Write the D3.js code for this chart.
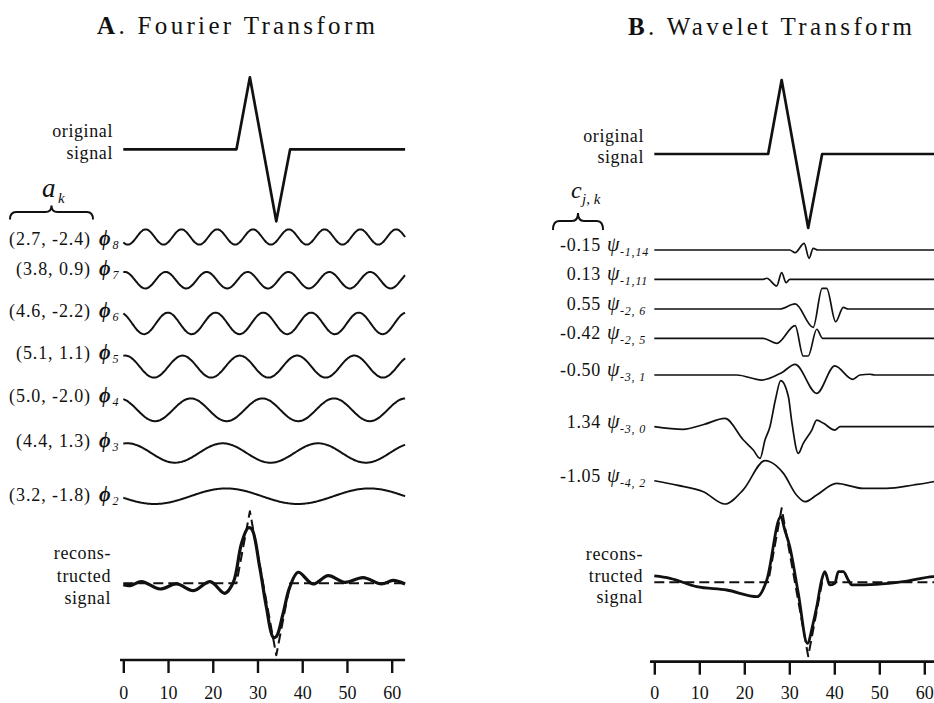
<!DOCTYPE html>
<html>
<head>
<meta charset="utf-8">
<script src="https://cdn.jsdelivr.net/npm/d3@7"></script>
<style>
  body { margin: 0; background: #fff; }
  svg { display: block; }
  text { font-family: "Liberation Serif", "Times New Roman", serif; fill: #111; }
</style>
</head>
<body>
<svg id="chart" width="934" height="703"></svg>
<script>
// ---------- data ----------
const xTicks = [0, 10, 20, 30, 40, 50, 60];

// original signal (sample index, amplitude)
const signalX = [0, 25.3, 28.3, 34.2, 37.3, 63];
const signalY = [0, 0, 1, -1, 0, 0];

// Fourier components phi_k with coefficient pairs a_k
const fourierK = [8, 7, 6, 5, 4, 3, 2];
const fourierA = [2.7, 3.8, 4.6, 5.1, 5.0, 4.4, 3.2];
const fourierB = [-2.4, 0.9, -2.2, 1.1, -2.0, 1.3, -1.8];
const fourierCrest = [5.0, 0.35, -0.7, 0.45, -0.9, 0.9, 23.0]; // sample index of a crest

// reconstruction from the Fourier components
const fourierRecon = [
  [0, -0.019], [1.5, -0.032], [4.1, 0.023], [8.2, -0.079], [11.9, -0.009],
  [15.7, -0.102], [19.4, 0.023], [22.7, -0.139], [24.6, 0.014], [26.4, 0.546],
  [27.9, 0.769], [28.7, 0.755], [30.5, 0.222], [32.0, -0.333], [33.5, -0.75],
  [34.2, -0.741], [35.7, -0.426], [37.2, -0.056], [39.1, 0.153], [42.4, -0.009],
  [45.8, 0.106], [49.5, 0.014], [53.6, 0.08], [57.7, -0.009], [60.3, 0.04], [63, -0.009]
];

// wavelet coefficients c_{j,k} and their indices
const waveletCoef = [-0.15, 0.13, 0.55, -0.42, -0.50, 1.34, -1.05];
const waveletIndex = ["-1,14", "-1,11", "-2, 6", "-2, 5", "-3, 1", "-3, 0", "-4, 2"];

// scaled wavelets c_{j,k} * psi_{j,k}
const psiM1K14 = [[0, 0], [30.1, 0], [31.3, -0.036], [33.3, 0.09], [34.4, -0.112], [35.3, 0.023], [36.4, 0], [63, 0]];
const psiM1K11 = [[0, 0], [24.2, 0], [25.0, 0.014], [27.2, -0.09], [28.3, 0.09], [29.3, -0.045], [30.1, 0], [63, 0]];
const psiM2K6 = [[0, 0], [27.9, 0], [31.3, 0.068], [35.3, -0.247], [37.3, 0.28], [38.3, 0.28], [40.3, -0.172], [42.0, 0.023], [43.1, 0], [63, 0]];
const psiM2K5 = [[0, 0], [24.2, 0], [27.2, -0.068], [31.3, 0.172], [33.1, -0.239], [34.2, -0.239], [36.1, 0.122], [37.4, 0], [63, 0]];
const psiM3K1 = [[0, 0], [18.3, 0], [23.9, -0.068], [28.3, 0.031], [31.3, 0.144], [36.1, -0.248], [40.1, 0.122], [44.1, -0.059], [45.7, 0], [47.9, 0.01], [49.0, 0], [63, 0]];
const psiM3K0 = [[0, 0], [6.4, -0.036], [11.0, 0.03], [15.7, 0.112], [19.8, -0.18], [22.0, -0.315], [23.5, -0.428], [24.6, -0.18], [25.7, 0], [26.9, 0.36], [28.1, 0.622], [29.8, 0.405], [30.5, 0.09], [32.0, -0.36], [33.1, -0.225], [35.0, -0.045], [36.1, 0.09], [37.6, 0.045], [40.1, -0.045], [41.3, 0], [63, 0]];
const psiM4K2 = [[0, 0], [5.0, -0.06], [10.9, -0.149], [15.7, -0.315], [19.8, -0.12], [24.6, 0.27], [25.7, 0.257], [28.7, 0.099], [31.6, -0.193], [33.5, -0.284], [36.1, -0.193], [40.5, -0.036], [46.4, -0.104], [51.6, -0.104], [57.6, -0.058], [62.0, -0.014], [63, 0]];
const waveletCurves = [psiM1K14, psiM1K11, psiM2K6, psiM2K5, psiM3K1, psiM3K0, psiM4K2];

// reconstruction from the wavelet coefficients
const waveletRecon = [
  [0, 0.086], [3.5, 0.054], [9.4, -0.059], [16.1, -0.104], [22.9, -0.194], [25.0, 0.032],
  [28.1, 0.887], [29.0, 0.707], [30.1, 0.482], [32.0, -0.149], [34.0, -0.824], [35.3, -0.554],
  [36.1, -0.329], [37.2, 0.032], [37.9, 0.144], [39.0, -0.036], [40.1, -0.014], [40.9, 0.144],
  [42.0, 0.144], [43.1, 0.032], [43.9, -0.036], [49.4, -0.027], [55.3, 0.009], [62.0, 0.077], [63, 0.08]
];

// ---------- drawing ----------
const svg = d3.select("#chart");
const INK = "#111";
const COEF_TO_SIGNAL = 1 / 34;   // coefficient units -> signal amplitude units

const rowScale = (base, unit) => d3.scaleLinear().domain([-1, 1]).range([base + unit, base - unit]);
const signal = signalX.map((x, i) => [x, signalY[i]]);

function pathLine(g, x, y, data, width, curve, dash) {
  const gen = d3.line().x(d => x(d[0])).y(d => y(d[1])).curve(curve || d3.curveLinear);
  const p = g.append("path").attr("d", gen(data)).attr("fill", "none")
    .attr("stroke", INK).attr("stroke-width", width)
    .attr("stroke-linejoin", "round").attr("stroke-linecap", "butt");
  if (dash) p.attr("stroke-dasharray", dash);
  return p;
}

function brace(g, x0, x1, yEnd, yMid, yTip) {
  const xm = (x0 + x1) / 2, r = 6;
  const d = `M${x0},${yEnd} Q${x0},${yMid} ${x0 + r},${yMid} L${xm - r},${yMid} Q${xm},${yMid} ${xm},${yTip}` +
            ` Q${xm},${yMid} ${xm + r},${yMid} L${x1 - r},${yMid} Q${x1},${yMid} ${x1},${yEnd}`;
  g.append("path").attr("d", d).attr("fill", "none").attr("stroke", INK).attr("stroke-width", 2);
}

function multiLabel(g, xRight, ys, lines) {
  lines.forEach((t, i) => g.append("text").attr("x", xRight).attr("y", ys[i])
    .attr("text-anchor", "end").attr("font-size", 18).attr("letter-spacing", "0.6px").text(t));
}

function drawAxis(g, x, yAxis, lineStart, labelBaseline) {
  const ax = d3.axisBottom(x).tickValues(xTicks).tickSize(13).tickSizeOuter(0).tickFormat(d => String(d));
  const a = g.append("g").attr("transform", `translate(0,${yAxis})`).call(ax);
  a.select(".domain").remove();
  a.attr("font-family", null);
  a.selectAll(".tick line").attr("stroke", INK).attr("stroke-width", 2.4);
  a.selectAll(".tick text").attr("y", labelBaseline - yAxis).attr("dy", null)
    .attr("fill", INK).style("font-size", "18px");
  g.append("line").attr("x1", lineStart).attr("x2", x(63)).attr("y1", yAxis).attr("y2", yAxis)
    .attr("stroke", INK).attr("stroke-width", 2.7);
}

function title(g, x, y, bold, rest, len) {
  const t = g.append("text").attr("x", x).attr("y", y).attr("font-size", 25)
    .attr("textLength", len).attr("lengthAdjust", "spacing");
  t.append("tspan").attr("font-weight", "bold").text(bold);
  t.append("tspan").text(rest);
}

// ===== Panel A: Fourier transform =====
const gA = svg.append("g");
const xA = d3.scaleLinear().domain([0, 63]).range([123.3, 405.1]);
const unitA = 72;

title(gA, 97, 33.5, "A", ". Fourier Transform", 278);

// original signal
const yOrigA = rowScale(149.3, unitA);
pathLine(gA, xA, yOrigA, signal, 2.7);
multiLabel(gA, 113, [137, 159], ["original", "signal"]);

// a_k heading with brace
gA.append("text").attr("x", 42).attr("y", 197).attr("font-size", 27).attr("font-style", "italic").text("a");
gA.append("text").attr("x", 58).attr("y", 203).attr("font-size", 15).attr("font-style", "italic").text("k");
brace(gA, 10, 93, 219.5, 212, 205.5);

// components phi_k
fourierK.forEach((k, i) => {
  const base = 237 + 43.2 * i;
  const y = rowScale(base, unitA);
  const amp = Math.hypot(fourierA[i], fourierB[i]) * COEF_TO_SIGNAL;
  const pts = d3.range(0, 63.001, 0.25).map(t => [t, amp * Math.cos(2 * Math.PI * k * (t - fourierCrest[i]) / 64)]);
  pathLine(gA, xA, y, pts, 2, d3.curveBasis);
  const ly = y(pts[0][1]) + 3;
  gA.append("text").attr("x", 91).attr("y", ly).attr("text-anchor", "end")
    .attr("font-size", 18).attr("letter-spacing", "0.9px")
    .text(`(${fourierA[i].toFixed(1)}, ${fourierB[i].toFixed(1)})`);
  gA.append("text").attr("x", 99).attr("y", ly).attr("font-size", 20)
    .attr("font-style", "italic").attr("font-weight", "bold").text("\u03D5");
  gA.append("text").attr("x", 112.5).attr("y", ly + 4).attr("font-size", 12)
    .attr("font-style", "italic").text(k);
});

// reconstruction
const yRecA = rowScale(583.3, unitA);
pathLine(gA, xA, yRecA, fourierRecon, 3.2, d3.curveCatmullRom.alpha(0.5));
pathLine(gA, xA, yRecA, signal, 2, d3.curveLinear, "10,5");
multiLabel(gA, 111, [559, 582, 604], ["recons-", "tructed", "signal"]);

drawAxis(gA, xA, 660, 120, 699);

// ===== Panel B: wavelet transform =====
const gB = svg.append("g");
const xB = d3.scaleLinear().domain([0, 63]).range([654.3, 937.8]);
const unitB = 74;

title(gB, 628, 35, "B", ". Wavelet Transform", 284);

const yOrigB = rowScale(154, unitB);
pathLine(gB, xB, yOrigB, signal, 2.7);
multiLabel(gB, 644, [142, 163], ["original", "signal"]);

// c_{j,k} heading with brace
gB.append("text").attr("x", 571).attr("y", 198).attr("font-size", 24).attr("font-style", "italic").text("c");
gB.append("text").attr("x", 582).attr("y", 204).attr("font-size", 15).attr("font-style", "italic").text("j, k");
brace(gB, 553, 603, 230, 221, 213);

const rowsB = [250, 279.3, 309, 338.3, 375, 426.7, 480.7];
waveletCurves.forEach((curve, i) => {
  const y = rowScale(rowsB[i], unitB);
  pathLine(gB, xB, y, curve, 1.7, d3.curveMonotoneX);
  const ly = rowsB[i] + 1;
  gB.append("text").attr("x", 601).attr("y", ly).attr("text-anchor", "end")
    .attr("font-size", 18).attr("letter-spacing", "0.7px").text(waveletCoef[i].toFixed(2));
  gB.append("text").attr("x", 607).attr("y", ly).attr("font-size", 20)
    .attr("font-style", "italic").text("\u03C8");
  gB.append("text").attr("x", 620).attr("y", ly + 5).attr("font-size", 12)
    .attr("font-style", "italic").attr("letter-spacing", "0.8px").text(waveletIndex[i]);
});

const yRecB = rowScale(582.3, unitB);
pathLine(gB, xB, yRecB, waveletRecon, 2.8, d3.curveMonotoneX);
pathLine(gB, xB, yRecB, signal, 2, d3.curveLinear, "10,5");
multiLabel(gB, 643, [560, 582, 603], ["recons-", "tructed", "signal"]);

drawAxis(gB, xB, 661.7, 650, 699);
</script>
</body>
</html>
